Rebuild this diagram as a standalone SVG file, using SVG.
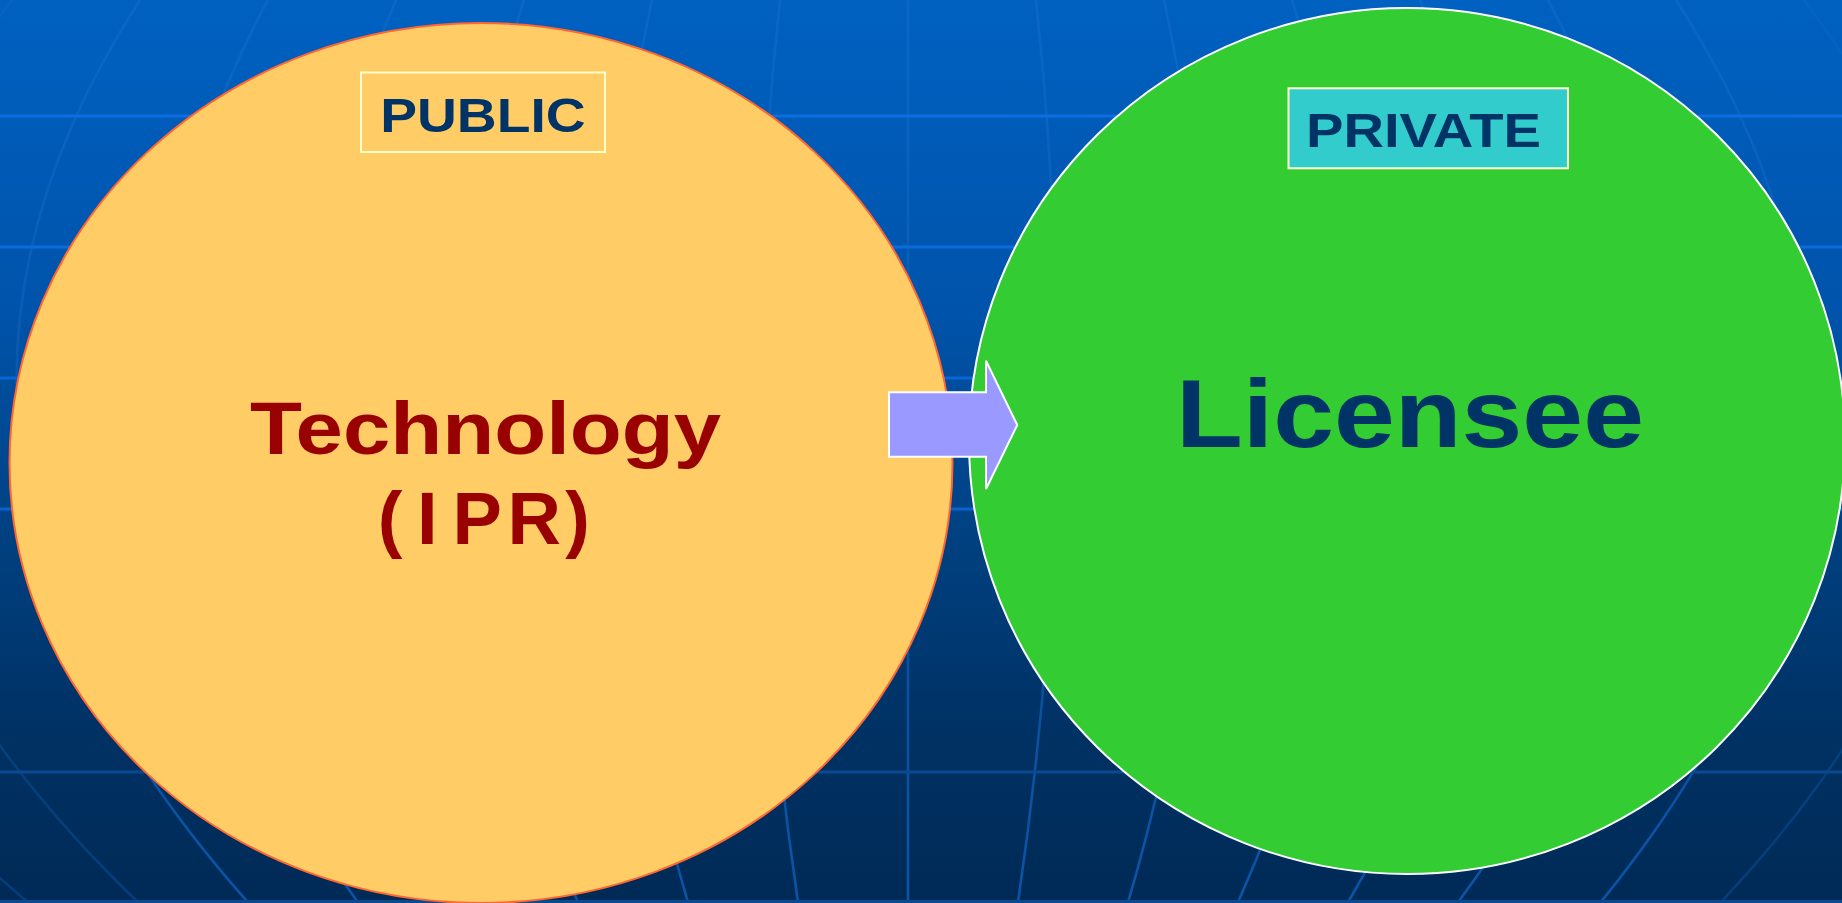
<svg xmlns="http://www.w3.org/2000/svg" width="1842" height="903" viewBox="0 0 1842 903">
  <defs>
    <linearGradient id="bg" x1="0" y1="0" x2="0" y2="903" gradientUnits="userSpaceOnUse">
      <stop offset="0" stop-color="#0061C1"/>
      <stop offset="0.35" stop-color="#0053AA"/>
      <stop offset="0.6" stop-color="#004080"/>
      <stop offset="0.8" stop-color="#003265"/>
      <stop offset="1" stop-color="#002A56"/>
    </linearGradient>
    <linearGradient id="mer" x1="0" y1="0" x2="0" y2="903" gradientUnits="userSpaceOnUse">
      <stop offset="0" stop-color="#2B7BD8" stop-opacity="0.25"/>
      <stop offset="0.55" stop-color="#1466C4" stop-opacity="0.4"/>
      <stop offset="1" stop-color="#0A55AA" stop-opacity="1"/>
    </linearGradient>
  </defs>
  <style>
    .hl { stroke-width: 3; fill: none; }
    .mer { stroke: url(#mer); stroke-width: 2.5; fill: none; }
    .faint { opacity: 0.45; }
    .lbl { font-family: "Liberation Sans", Arial, sans-serif; font-weight: bold; }
    .tag { font-size: 48px; fill: #003366; }
    .box { stroke: #FFFFCC; stroke-width: 2; }
  </style>

  <g id="background">
    <rect x="0" y="0" width="1842" height="903" fill="url(#bg)"/>
    <g id="meridians">
      <path class="mer faint" d="M-116 0 Q-506.4 451.5 28.8 903"/>
      <path class="mer faint" d="M12 0 Q-329.6 451.5 138.7 903"/>
      <path class="mer" d="M140 0 Q-152.8 451.5 248.6 903"/>
      <path class="mer" d="M268 0 Q24 451.5 358.5 903"/>
      <path class="mer" d="M396 0 Q200.8 451.5 468.4 903"/>
      <path class="mer" d="M524 0 Q377.6 451.5 578.3 903"/>
      <path class="mer" d="M652 0 Q554.4 451.5 688.2 903"/>
      <path class="mer" d="M780 0 Q731.2 451.5 798.1 903"/>
      <path class="mer" d="M908 0 Q908 451.5 908 903"/>
      <path class="mer" d="M1036 0 Q1084.8 451.5 1017.9 903"/>
      <path class="mer" d="M1164 0 Q1261.6 451.5 1127.8 903"/>
      <path class="mer" d="M1292 0 Q1438.4 451.5 1237.7 903"/>
      <path class="mer" d="M1420 0 Q1615.2 451.5 1347.6 903"/>
      <path class="mer" d="M1548 0 Q1792 451.5 1457.5 903"/>
      <path class="mer" d="M1676 0 Q1968.8 451.5 1600 903"/>
      <path class="mer faint" d="M1804 0 Q2145.6 451.5 1720 903"/>
      <path class="mer faint" d="M1932 0 Q2322.4 451.5 1840 903"/>
    </g>
    <g id="parallels">
      <line class="hl" x1="0" y1="116" x2="1842" y2="116" stroke="#0A6FE0"/>
      <line class="hl" x1="0" y1="247" x2="1842" y2="247" stroke="#0A6CDC"/>
      <line class="hl" x1="0" y1="378" x2="1842" y2="378" stroke="#0867D6"/>
      <line class="hl" x1="0" y1="509" x2="1842" y2="509" stroke="#0664D2"/>
      <line class="hl" x1="0" y1="772" x2="1842" y2="772" stroke="#0A4A90"/>
      <line class="hl" x1="0" y1="901.5" x2="1842" y2="901.5" stroke="#0A4A90"/>
    </g>
  </g>

  <g id="node-public">
    <ellipse cx="481" cy="463" rx="471.5" ry="440" fill="#FFCC66" stroke="#FF6633" stroke-width="2"/>
    <rect class="box" x="361" y="72.5" width="244" height="79.5" fill="none"/>
    <text class="lbl tag" transform="translate(380.2 131.7) scale(1.15 1)" x="0" y="0">PUBLIC</text>
    <text class="lbl" transform="translate(249.9 454.3) scale(1.15 1)" x="0" y="0" font-size="74" fill="#990000">Technology</text>
    <text class="lbl" x="377.7 417 452.4 507.4 565.2" y="544" font-size="74" fill="#990000">(IPR)</text>
  </g>

  <g id="node-private">
    <ellipse cx="1407" cy="441" rx="438" ry="433" fill="#33CC33" stroke="#FFFFFF" stroke-width="2"/>
    <rect class="box" x="1288.5" y="88.3" width="279.5" height="80" fill="#33CCCC"/>
    <text class="lbl tag" transform="translate(1306 146.7) scale(1.17 1)" x="0" y="0">PRIVATE</text>
    <text class="lbl" transform="translate(1176 446.7) scale(1.145 1)" x="0" y="0" font-size="95.5" fill="#003366">Licensee</text>
  </g>

  <g id="connectors">
    <polygon id="arrow-public-private" points="889,392.3 986,392.3 986,360.7 1017.3,425 986,489 986,456.7 889,456.7" fill="#9999FF" stroke="#FFFFFF" stroke-width="2" stroke-linejoin="miter"/>
  </g>
</svg>
